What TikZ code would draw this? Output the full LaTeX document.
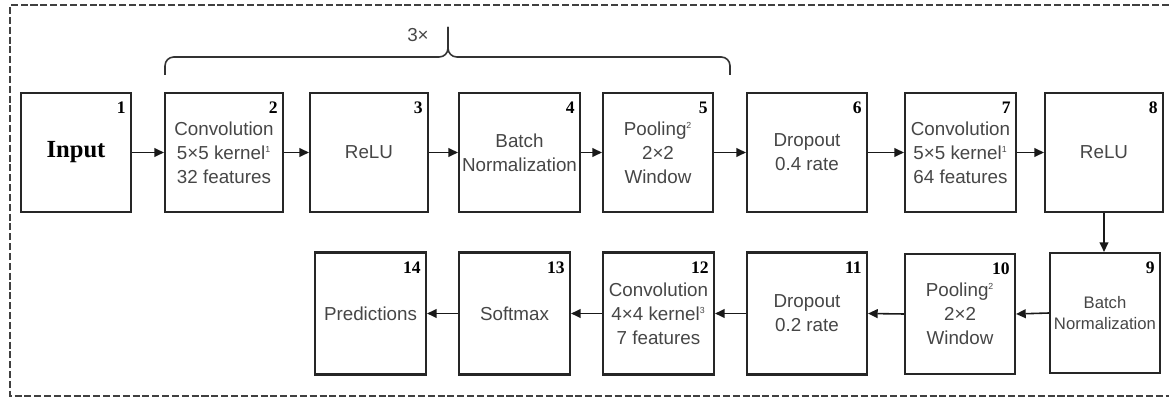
\documentclass[tikz,border=0pt]{standalone}
\usepackage{fontspec}
\setmainfont{Liberation Serif}
\setsansfont{Liberation Sans}
\usetikzlibrary{arrows.meta}
\definecolor{boxtext}{RGB}{70,70,70}
\tikzset{
    layer/.style={draw=black!85, line width=1.2pt, minimum height=2.38cm, inner sep=1pt,
        align=center, text=boxtext, font=\sffamily\fontsize{10.7}{13.6}\selectfont},
    num/.style={anchor=north east, inner sep=0pt, text=black,
        font=\rmfamily\bfseries\fontsize{10}{10}\selectfont},
    link/.style={->, line width=0.9pt, draw=black!90},
    frame/.style={draw=black!75, line width=0.8pt, dash pattern=on 4pt off 1.6pt},
    brace line/.style={draw=black!80, line width=0.9pt, rounded corners=5pt}
}

\begin{document}
\begin{tikzpicture}[x=0.02cm, y=-0.02cm, >={Triangle[length=5.5pt,width=5pt]}]
    \useasboundingbox (0,0) rectangle (1169,398);
    % Dashed frame, open on the right
    \draw[frame] (1169,5) -- (10,5) -- (10,396) -- (1169,396);
    % Top row
    \node[layer, minimum width=2.2cm, text=black,
        font=\rmfamily\bfseries\fontsize{14}{16}\selectfont] (b1) at (76,152.5) {Input};
    \node[layer, minimum width=2.36cm] (b2) at (224,152.5)
        {Convolution\\5×5 kernel\textsuperscript{\tiny 1}\\32 features};
    \node[layer, minimum width=2.36cm] (b3) at (369,152.5) {ReLU};
    \node[layer, minimum width=2.42cm] (b4) at (519.5,152.5) {Batch\\Normalization};
    \node[layer, minimum width=2.2cm] (b5) at (658,152.5)
        {Pooling\textsuperscript{\tiny 2}\\2×2\\Window};
    \node[layer, minimum width=2.4cm] (b6) at (807,152.5) {Dropout\\0.4 rate};
    \node[layer, minimum width=2.22cm] (b7) at (960.5,152.5)
        {Convolution\\5×5 kernel\textsuperscript{\tiny 1}\\64 features};
    \node[layer, minimum width=2.36cm] (b8) at (1104,152.5) {ReLU};
    % Bottom row, right to left
    \node[layer, minimum width=2.2cm, minimum height=2.4cm,
        font=\sffamily\fontsize{9.5}{12}\selectfont] (b9) at (1105,313) {Batch\\Normalization};
    \node[layer, minimum width=2.2cm, minimum height=2.4cm] (b10) at (960,314)
        {Pooling\textsuperscript{\tiny 2}\\2×2\\Window};
    \node[layer, minimum width=2.4cm, minimum height=2.44cm] (b11) at (807,313.5) {Dropout\\0.2 rate};
    \node[layer, minimum width=2.22cm, minimum height=2.44cm] (b12) at (658.5,313.5)
        {Convolution\\4×4 kernel\textsuperscript{\tiny 3}\\7 features};
    \node[layer, minimum width=2.22cm, minimum height=2.44cm] (b13) at (514.5,313.5) {Softmax};
    \node[layer, minimum width=2.22cm, minimum height=2.44cm] (b14) at (370.5,313.5) {Predictions};
    % Layer numbers
    \foreach \i in {1,...,14}
        \node[num] (n\i) at ([shift={(-6,10)}]b\i.north east) {\i};
    % Connections
    \foreach \p/\q in {b1/b2, b2/b3, b3/b4, b4/b5, b5/b6, b6/b7, b7/b8}
        \draw[link] (\p.east) -- (\q.west);
    \draw[link] (b8.south) -- (b8.south |- b9.north);
    \foreach \p/\q in {b9/b10, b10/b11, b11/b12, b12/b13, b13/b14}
        \draw[link] (\p.west) -- (\q.east);
    % Repeat brace over layers 2-5
    \draw[brace line] (165,75) |- (448,57) -- (448,27);
    \draw[brace line] (448,27) -- (448,57) -| (730,75);
    \node[text=boxtext, font=\sffamily\fontsize{10.7}{13.6}\selectfont] (rep) at (418,35) {3×};
\end{tikzpicture}
\end{document}
